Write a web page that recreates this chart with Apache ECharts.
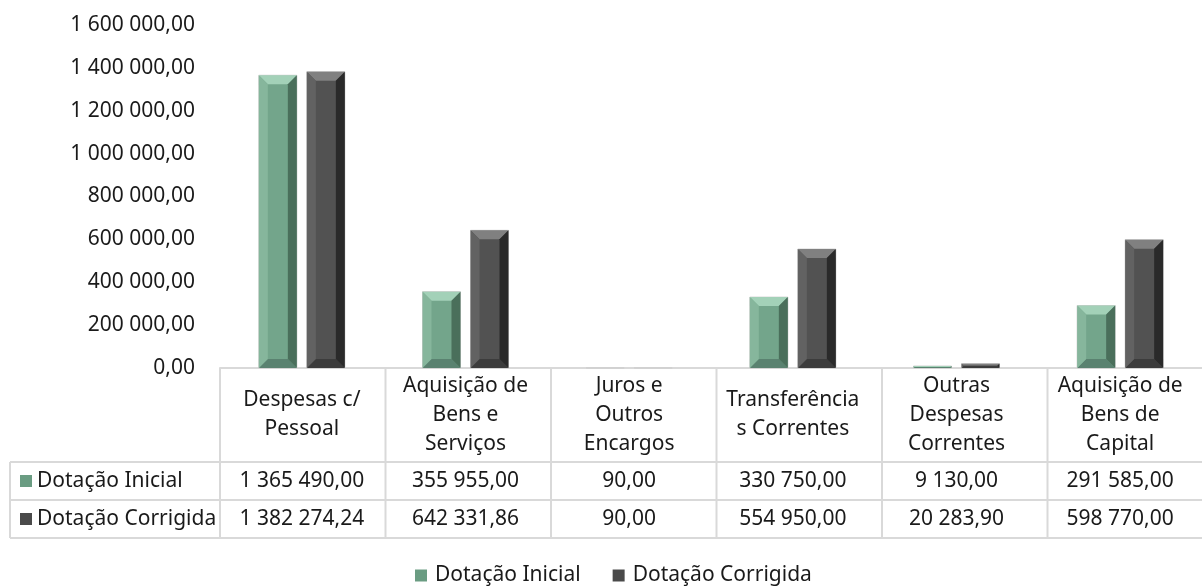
<!DOCTYPE html>
<html lang="pt">
<head>
    <meta charset="UTF-8">
    <title>Dotação Inicial vs Corrigida</title>
    <style>
        body { margin: 0; overflow: hidden; background: #fff; }
        #chart { width: 1202px; height: 586px; }
    </style>
</head>
<body>
    <div id="chart"></div>
    <script src="https://cdn.jsdelivr.net/npm/echarts@6/dist/echarts.min.js"></script>
    <script>
        var categories = [
            'Despesas c/\nPessoal',
            'Aquisição de\nBens e\nServiços',
            'Juros e\nOutros\nEncargos',
            'Transferência\ns Correntes',
            'Outras\nDespesas\nCorrentes',
            'Aquisição de\nBens de\nCapital'
        ];
        var seriesNames = ['Dotação Inicial', 'Dotação Corrigida'];
        var dotacaoInicial = [1365490.00, 355955.00, 90.00, 330750.00, 9130.00, 291585.00];
        var dotacaoCorrigida = [1382274.24, 642331.86, 90.00, 554950.00, 20283.90, 598770.00];

        var FONT = '"Noto Sans"';
        var FSIZE = 21;
        var TXT = '#1a1a1a';
        var LINE = '#d9d9d9';

        // cores do bisel: face, cima, esquerda, direita, baixo
        var palettes = [
            { face: '#73a58b', top: '#a3d1b8', left: '#86b69c', right: '#4a6f5b', bottom: '#5a8270', legend: '#6a9c82' },
            { face: '#525252', top: '#808080', left: '#626262', right: '#2a2a2a', bottom: '#3c3c3c', legend: '#4a4a4a' }
        ];

        function fmt(v) {
            var parts = v.toFixed(2).split('.');
            return parts[0].replace(/\B(?=(\d{3})+(?!\d))/g, ' ') + ',' + parts[1];
        }

        function bevelBar(offset, pal) {
            return function (params, api) {
                var idx = api.value(0), val = api.value(1);
                var top = api.coord([idx, val]);
                var base = api.coord([idx, 0]);
                var w = 38;
                var x0 = top[0] + offset - w / 2, x1 = x0 + w;
                var y0 = top[1], y1 = base[1];
                var h = y1 - y0;
                var b = Math.min(9, h / 2, w / 2);
                return {
                    type: 'group',
                    children: [
                        { type: 'rect', shape: { x: x0, y: y0, width: w, height: h }, style: { fill: pal.face, stroke: '#cfcfcf', lineWidth: 1 } },
                        { type: 'polygon', shape: { points: [[x0, y0], [x1, y0], [x1 - b, y0 + b], [x0 + b, y0 + b]] }, style: { fill: pal.top } },
                        { type: 'polygon', shape: { points: [[x0, y1], [x1, y1], [x1 - b, y1 - b], [x0 + b, y1 - b]] }, style: { fill: pal.bottom } },
                        { type: 'polygon', shape: { points: [[x0, y0], [x0 + b, y0 + b], [x0 + b, y1 - b], [x0, y1]] }, style: { fill: pal.left } },
                        { type: 'polygon', shape: { points: [[x1, y0], [x1 - b, y0 + b], [x1 - b, y1 - b], [x1, y1]] }, style: { fill: pal.right } }
                    ]
                };
            };
        }

        var myChart = echarts.init(document.getElementById('chart'));

        var gridLeft = 220, gridWidth = 993, gridTop = 25, gridBottomY = 368;

        var option = {
            animation: false,
            grid: { left: gridLeft, top: gridTop, width: gridWidth, height: gridBottomY - gridTop },
            legend: {
                top: 560,
                left: 410,
                itemWidth: 12,
                itemHeight: 12,
                itemGap: 32,
                icon: 'rect',
                textStyle: { fontFamily: FONT, fontSize: FSIZE, color: TXT, padding: [0, 0, 0, 3] },
                data: seriesNames
            },
            xAxis: {
                type: 'category',
                data: categories,
                axisLine: { lineStyle: { color: LINE, width: 2 } },
                axisTick: { show: false },
                axisLabel: { show: false }
            },
            yAxis: {
                type: 'value',
                min: 0,
                max: 1600000,
                interval: 200000,
                axisLine: { show: false },
                axisTick: { show: false },
                splitLine: { show: false },
                axisLabel: {
                    margin: 25,
                    fontFamily: FONT,
                    fontSize: FSIZE,
                    color: TXT,
                    formatter: function (v) { return fmt(v); }
                }
            },
            series: [
                {
                    name: seriesNames[0],
                    type: 'custom',
                    itemStyle: { color: palettes[0].legend },
                    renderItem: bevelBar(-24, palettes[0]),
                    encode: { x: 0, y: 1 },
                    data: dotacaoInicial.map(function (v, i) { return [i, v]; })
                },
                {
                    name: seriesNames[1],
                    type: 'custom',
                    itemStyle: { color: palettes[1].legend },
                    renderItem: bevelBar(24, palettes[1]),
                    encode: { x: 0, y: 1 },
                    data: dotacaoCorrigida.map(function (v, i) { return [i, v]; })
                }
            ]
        };

        myChart.setOption(option);

        // tabela de dados por baixo do eixo
        var colW = gridWidth / categories.length;
        var tableRight = gridLeft + gridWidth;
        var rowTop = [gridBottomY, 462, 500, 538];
        var tableLeft = 10;
        var g = [];
        function hline(y, xa, xb) {
            g.push({ type: 'line', shape: { x1: xa, y1: y, x2: xb, y2: y }, style: { stroke: LINE, lineWidth: 2 } });
        }
        function vline(x, ya, yb) {
            g.push({ type: 'line', shape: { x1: x, y1: ya, x2: x, y2: yb }, style: { stroke: LINE, lineWidth: 2 } });
        }
        hline(rowTop[1], tableLeft, tableRight);
        hline(rowTop[2], tableLeft, tableRight);
        hline(rowTop[3], tableLeft, tableRight);
        vline(tableLeft, rowTop[1], rowTop[3]);
        for (var i = 0; i <= categories.length; i++) {
            vline(gridLeft + i * colW, rowTop[0], rowTop[3]);
        }
        var rows = [dotacaoInicial, dotacaoCorrigida];
        var font = FSIZE + 'px ' + FONT;
        categories.forEach(function (c, i) {
            var cx = myChart.convertToPixel({ xAxisIndex: 0 }, i);
            g.push({
                type: 'text', x: cx, y: (rowTop[0] + rowTop[1]) / 2,
                style: { text: c, fill: TXT, font: font, align: 'center', verticalAlign: 'middle', lineHeight: 29 }
            });
            rows.forEach(function (r, k) {
                g.push({
                    type: 'text', x: cx, y: (rowTop[k + 1] + rowTop[k + 2]) / 2,
                    style: { text: fmt(r[i]), fill: TXT, font: font, align: 'center', verticalAlign: 'middle' }
                });
            });
        });
        seriesNames.forEach(function (n, k) {
            var cy = (rowTop[k + 1] + rowTop[k + 2]) / 2;
            g.push({ type: 'rect', shape: { x: 20, y: cy - 6, width: 12, height: 12 }, style: { fill: palettes[k].legend } });
            g.push({
                type: 'text', x: 37, y: cy,
                style: { text: n, fill: TXT, font: font, align: 'left', verticalAlign: 'middle' }
            });
        });
        myChart.setOption({ graphic: g });
    </script>
</body>
</html>
